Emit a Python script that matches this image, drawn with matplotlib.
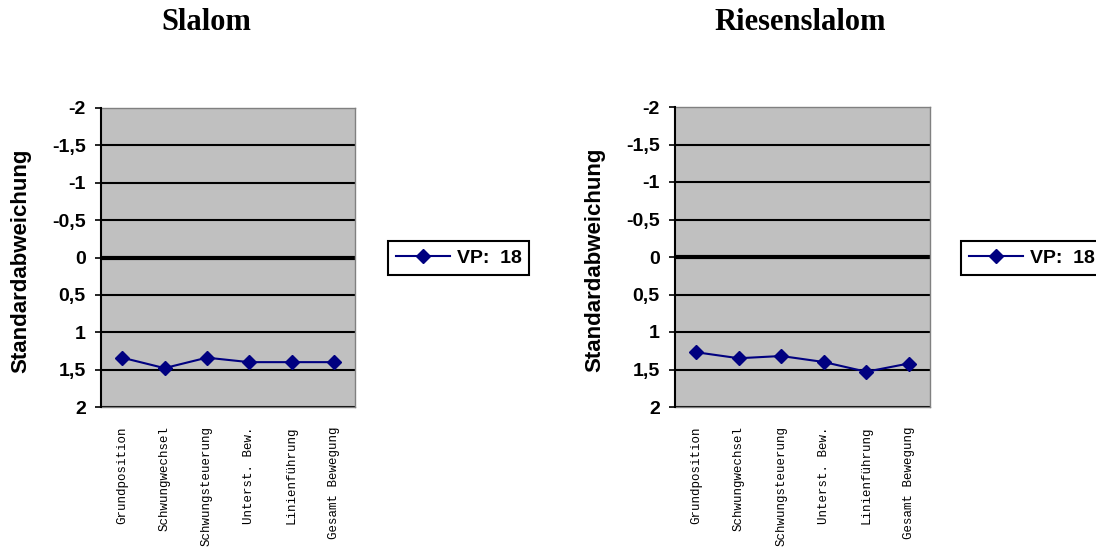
import matplotlib
matplotlib.use("Agg")
import matplotlib.pyplot as plt
import matplotlib.ticker as ticker

# --- Data ---

categories = [
    "Grundposition",
    "Schwungwechsel",
    "Schwungsteuerung",
    "Unterst. Bew.",
    "Linienführung",
    "Gesamt Bewegung",
]
slalom = [1.34, 1.48, 1.34, 1.40, 1.40, 1.40]
riesenslalom = [1.27, 1.35, 1.32, 1.40, 1.53, 1.42]
yticks = [-2, -1.5, -1, -0.5, 0, 0.5, 1, 1.5, 2]
series_label = "VP:  18"

NAVY = "#000080"
GRAY = "#C0C0C0"


def draw_panel(fig, rect, values, title, title_x, legend_x):
    ax = fig.add_axes(rect)
    ax.set_facecolor(GRAY)

    xs = list(range(len(categories)))
    ax.plot(xs, values, color=NAVY, lw=1.5, marker="D", ms=7,
            mfc=NAVY, mec=NAVY, label=series_label, zorder=3)

    ax.set_xlim(-0.5, len(categories) - 0.5)
    ax.set_ylim(yticks[-1], yticks[0])
    ax.set_yticks(yticks)
    ax.yaxis.set_major_formatter(ticker.FuncFormatter(
        lambda v, _: f"{v:g}".replace(".", ",")
    ))

    for v in yticks[1:]:
        ax.axhline(v, color="black", lw=3.0 if v == 0 else 1.5, zorder=2)

    for side in ("top", "right", "bottom"):
        ax.spines[side].set_color("#808080")
        ax.spines[side].set_linewidth(1)
    ax.spines["left"].set_color("black")
    ax.spines["left"].set_linewidth(1.5)
    ax.spines["left"].set_zorder(4)

    ax.tick_params(axis="y", direction="out", length=4, width=1.2, pad=7,
                   labelsize=14)
    for lab in ax.get_yticklabels():
        lab.set_fontweight("bold")
        lab.set_family("Liberation Sans")

    ax.set_xticks(xs)
    ax.set_xticklabels(categories, rotation=90, family="Liberation Mono",
                       fontsize=9)
    ax.tick_params(axis="x", length=0, pad=14)

    ax.text(-0.315, 0.49, "Standardabweichung", transform=ax.transAxes,
            rotation=90, ha="center", va="center", fontsize=16,
            fontweight="bold", family="Liberation Sans")

    fig.text(title_x, 1 - 30 / 556, title, ha="center", va="baseline",
             fontsize=22, fontweight="bold", family="Liberation Serif")

    leg = ax.legend(loc="center left", bbox_to_anchor=(legend_x, 1 - 258 / 556),
                    bbox_transform=fig.transFigure, fancybox=False,
                    edgecolor="black", framealpha=1, borderpad=0.4,
                    handlelength=2.8, handletextpad=0.35,
                    prop={"family": "Liberation Sans", "weight": "bold",
                          "size": 14})
    leg.get_frame().set_linewidth(1.5)
    return ax


fig = plt.figure(figsize=(10.96, 5.56), dpi=100)

draw_panel(fig, [101 / 1096, 1 - 407 / 556, 254 / 1096, 299 / 556],
           slalom, "Slalom", 206 / 1096, 378 / 1096)
draw_panel(fig, [675 / 1096, 1 - 407 / 556, 255 / 1096, 300 / 556],
           riesenslalom, "Riesenslalom", 800 / 1096, 951 / 1096)

plt.savefig("out.png", dpi=100)
plt.close()
